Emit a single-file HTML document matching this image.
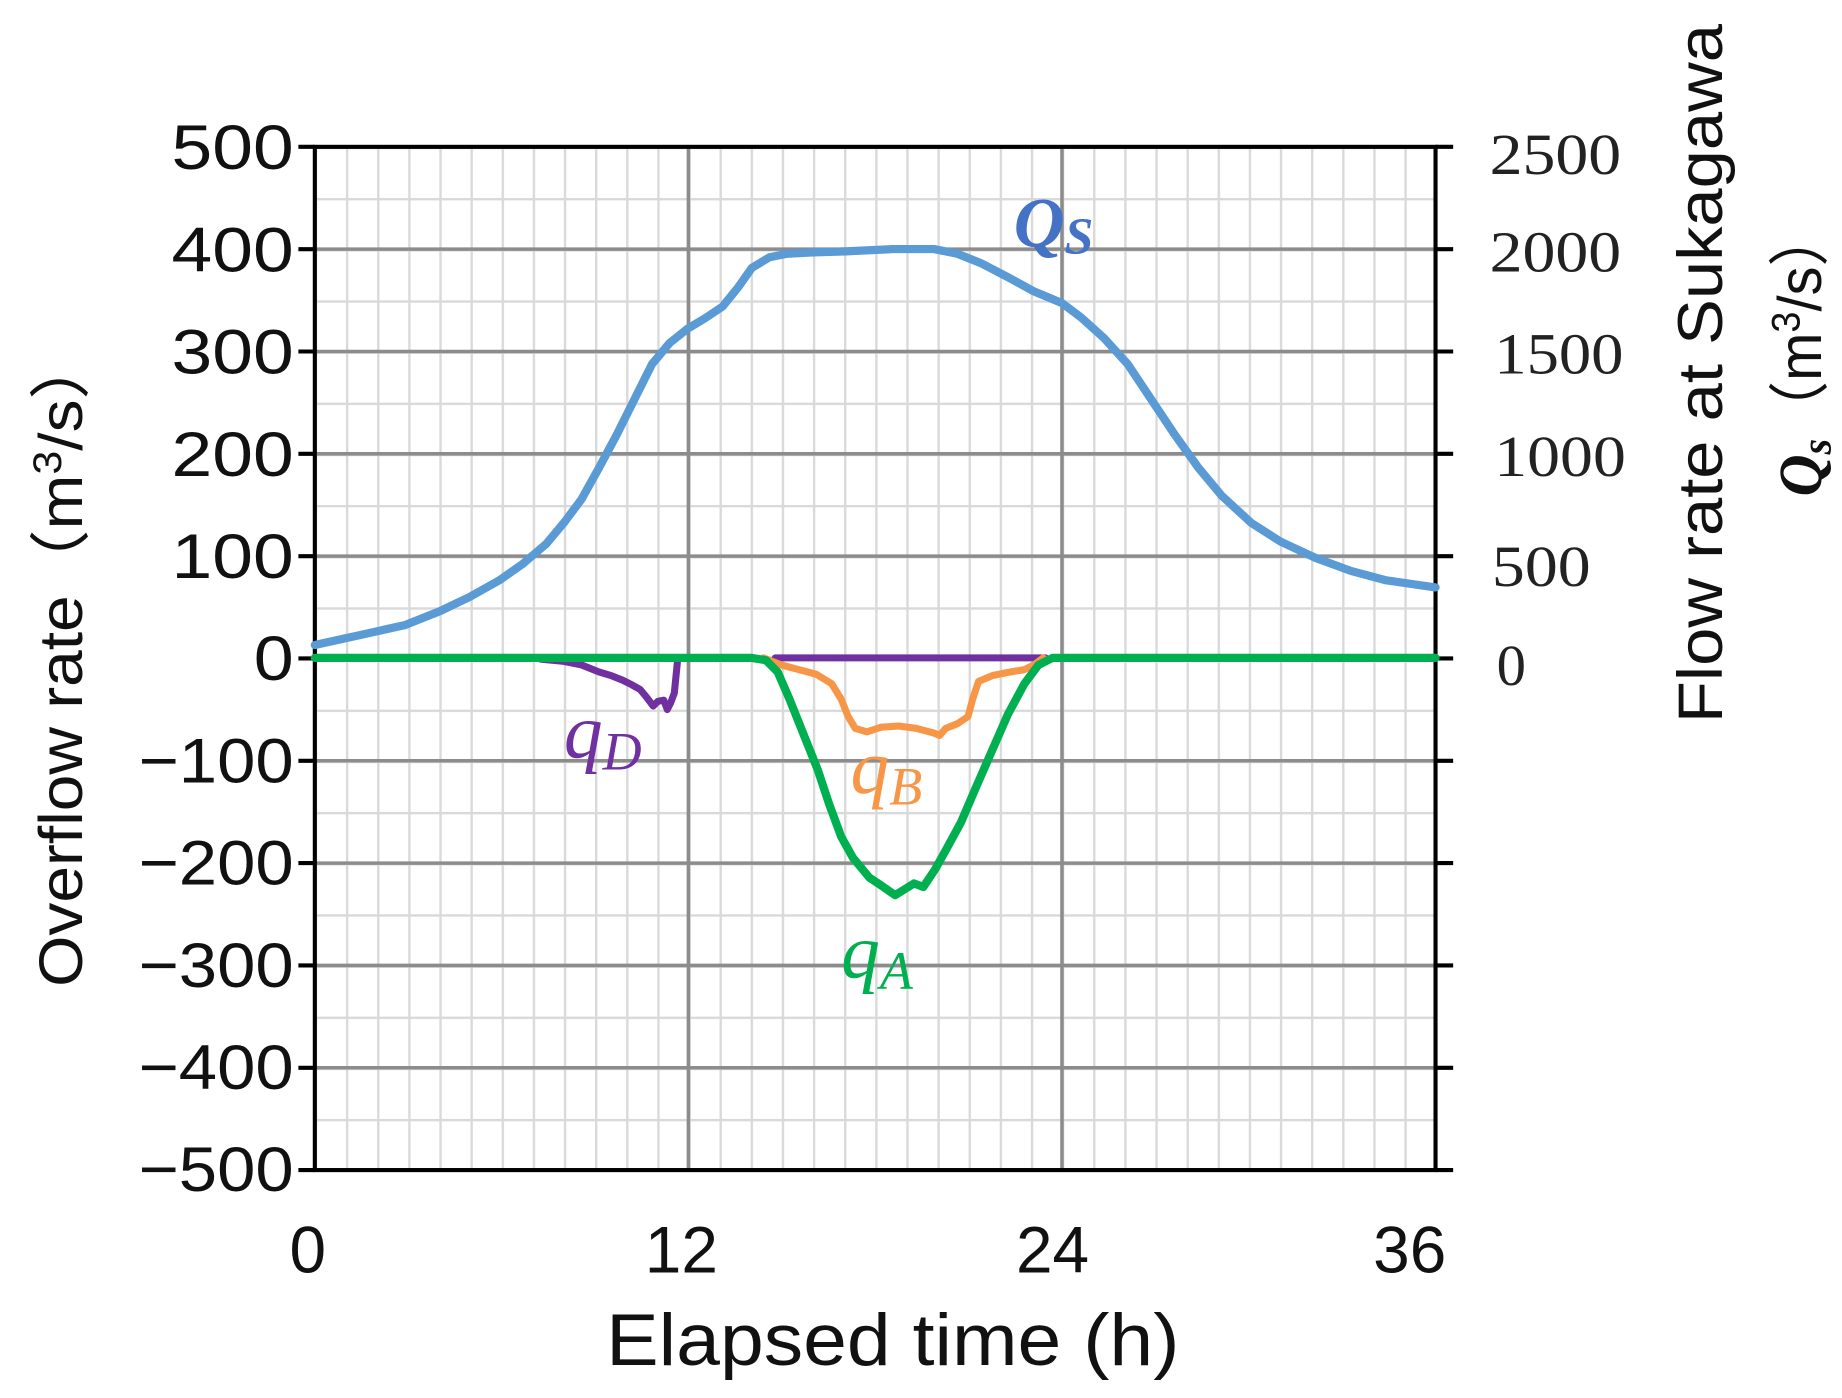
<!DOCTYPE html>
<html><head><meta charset="utf-8"><style>
html,body{margin:0;padding:0;background:#fff;}
svg{display:block;}
</style></head><body>
<svg width="1842" height="1398" viewBox="0 0 1568 1190" preserveAspectRatio="none" xmlns="http://www.w3.org/2000/svg">
<defs>
<pattern id="g" x="268" y="125" width="26.5" height="43.55" patternUnits="userSpaceOnUse">
<line x1="0" y1="0" x2="0" y2="43.55" stroke="#d9d9d9" stroke-width="4"/>
<line x1="0" y1="0" x2="26.5" y2="0" stroke="#d9d9d9" stroke-width="4"/>
</pattern>
</defs>
<rect x="0" y="0" width="1568" height="1190" fill="#fff"/>
<rect x="268" y="125" width="954" height="871" fill="url(#g)"/>
<g stroke="#8c8c8c" stroke-width="3">
<line x1="268" y1="212.1" x2="1222" y2="212.1"/>
<line x1="268" y1="299.2" x2="1222" y2="299.2"/>
<line x1="268" y1="386.3" x2="1222" y2="386.3"/>
<line x1="268" y1="473.4" x2="1222" y2="473.4"/>
<line x1="268" y1="560.5" x2="1222" y2="560.5"/>
<line x1="268" y1="647.6" x2="1222" y2="647.6"/>
<line x1="268" y1="734.7" x2="1222" y2="734.7"/>
<line x1="268" y1="821.8" x2="1222" y2="821.8"/>
<line x1="268" y1="908.9" x2="1222" y2="908.9"/>
<line x1="586" y1="125" x2="586" y2="996"/>
<line x1="904" y1="125" x2="904" y2="996"/>
</g>
<g stroke="#000" stroke-width="3.5">
<rect x="268" y="125" width="954" height="871" fill="none"/>
<line x1="254" y1="125" x2="268" y2="125"/><line x1="254" y1="212.1" x2="268" y2="212.1"/><line x1="254" y1="299.2" x2="268" y2="299.2"/><line x1="254" y1="386.3" x2="268" y2="386.3"/><line x1="254" y1="473.4" x2="268" y2="473.4"/><line x1="254" y1="560.5" x2="268" y2="560.5"/><line x1="254" y1="647.6" x2="268" y2="647.6"/><line x1="254" y1="734.7" x2="268" y2="734.7"/><line x1="254" y1="821.8" x2="268" y2="821.8"/><line x1="254" y1="908.9" x2="268" y2="908.9"/><line x1="254" y1="996" x2="268" y2="996"/>
<line x1="1222" y1="125" x2="1237" y2="125"/><line x1="1222" y1="212.1" x2="1237" y2="212.1"/><line x1="1222" y1="299.2" x2="1237" y2="299.2"/><line x1="1222" y1="386.3" x2="1237" y2="386.3"/><line x1="1222" y1="473.4" x2="1237" y2="473.4"/><line x1="1222" y1="560.5" x2="1237" y2="560.5"/><line x1="1222" y1="647.6" x2="1237" y2="647.6"/><line x1="1222" y1="734.7" x2="1237" y2="734.7"/><line x1="1222" y1="821.8" x2="1237" y2="821.8"/><line x1="1222" y1="908.9" x2="1237" y2="908.9"/><line x1="1222" y1="996" x2="1237" y2="996"/>
</g>
<g font-family="Liberation Sans, sans-serif" font-size="54" text-anchor="end" fill="#111">
<text x="250" y="144" textLength="104" lengthAdjust="spacingAndGlyphs">500</text><text x="250" y="231" textLength="104" lengthAdjust="spacingAndGlyphs">400</text><text x="250" y="318" textLength="104" lengthAdjust="spacingAndGlyphs">300</text><text x="250" y="405" textLength="104" lengthAdjust="spacingAndGlyphs">200</text><text x="250" y="492" textLength="104" lengthAdjust="spacingAndGlyphs">100</text><text x="250" y="579" textLength="34" lengthAdjust="spacingAndGlyphs">0</text><text x="250" y="666" textLength="132" lengthAdjust="spacingAndGlyphs">−100</text><text x="250" y="753" textLength="132" lengthAdjust="spacingAndGlyphs">−200</text><text x="250" y="840" textLength="132" lengthAdjust="spacingAndGlyphs">−300</text><text x="250" y="927" textLength="132" lengthAdjust="spacingAndGlyphs">−400</text><text x="250" y="1014" textLength="132" lengthAdjust="spacingAndGlyphs">−500</text>
</g>
<g font-family="Liberation Serif, serif" font-size="50" fill="#222">
<text x="1268" y="148" textLength="112" lengthAdjust="spacingAndGlyphs">2500</text><text x="1268" y="231" textLength="112" lengthAdjust="spacingAndGlyphs">2000</text><text x="1272" y="318" textLength="110" lengthAdjust="spacingAndGlyphs">1500</text><text x="1272" y="405" textLength="112" lengthAdjust="spacingAndGlyphs">1000</text><text x="1270" y="499" textLength="84" lengthAdjust="spacingAndGlyphs">500</text><text x="1274" y="583">0</text>
</g>
<g font-family="Liberation Sans, sans-serif" font-size="56" text-anchor="middle" fill="#111">
<text x="262" y="1083">0</text><text x="580" y="1083">12</text><text x="896" y="1083">24</text><text x="1200" y="1083">36</text>
</g>
<text x="760" y="1162" font-family="Liberation Sans, sans-serif" font-size="62" text-anchor="middle" fill="#111" textLength="488" lengthAdjust="spacingAndGlyphs">Elapsed time (h)</text>
<text transform="translate(70,562) rotate(-90)" font-family="Liberation Sans, sans-serif" font-size="52" text-anchor="middle" fill="#111" textLength="556" lengthAdjust="spacingAndGlyphs">Overflow rate（m<tspan font-size="34" dy="-18">3</tspan><tspan dy="18">/s）</tspan></text>
<text transform="translate(1466,318) rotate(-90)" font-family="Liberation Sans, sans-serif" font-size="54" text-anchor="middle" fill="#111" textLength="595" lengthAdjust="spacingAndGlyphs">Flow rate at Sukagawa</text>
<text transform="translate(1550,300) rotate(-90)" font-family="Liberation Sans, sans-serif" font-size="52" text-anchor="middle" fill="#111" textLength="245" lengthAdjust="spacingAndGlyphs"><tspan font-family="Liberation Serif, serif" font-weight="bold" font-style="italic">Q</tspan><tspan font-family="Liberation Serif, serif" font-style="italic" font-weight="bold" font-size="36" dy="8">s</tspan><tspan dy="-8">（m</tspan><tspan font-size="34" dy="-18">3</tspan><tspan dy="18">/s）</tspan></text>
<g fill="none" stroke-linejoin="round" stroke-linecap="round">
<polyline stroke="#5b9bd5" stroke-width="7" points="268,549 300,542 345,532 375,520 400,508 425,494 445,480 465,463 480,445 495,425 510,398 525,370 540,340 555,310 570,292 585,280 600,271 615,261 628,245 640,228 655,219 670,216 690,215 720,214 760,212 795,212 815,216 835,224 860,237 880,248 904,258 920,270 940,288 960,310 980,340 1000,370 1020,398 1040,422 1065,445 1090,461 1120,475 1150,486 1180,494 1222,500"/>
<polyline stroke="#7030a0" stroke-width="6" points="460,561 480,563 495,566 510,572 520,575 530,579 538,583 545,587 550,593 556,601 560,597 565,596 568,604 571,598 574,590 577,560"/>
<line x1="660" y1="560" x2="890" y2="560" stroke="#7030a0" stroke-width="6"/>
<polyline stroke="#f79646" stroke-width="6" points="650,560 665,566 680,570 695,574 708,582 716,595 722,610 728,620 738,623 750,619 765,618 780,620 795,624 800,626 805,620 815,616 824,610 828,595 833,580 845,575 860,572 872,570 880,566 888,560"/>
<polyline stroke="#00b050" stroke-width="7" points="268,560 640,560 652,562 662,572 672,595 684,625 696,655 706,685 716,712 726,730 740,747 752,755 762,762 770,757 778,752 786,755 796,740 806,722 818,700 830,672 844,640 858,608 872,582 884,566 896,560 1222,560"/>
</g>
<text x="863" y="210" font-family="Liberation Serif, serif" font-size="60" font-weight="bold" font-style="italic" fill="#4472c4">Q<tspan font-size="44" dy="6">S</tspan></text>
<text x="480" y="645" font-family="Liberation Serif, serif" font-size="66" font-style="italic" fill="#7030a0">q<tspan font-size="46" dy="10">D</tspan></text>
<text x="724" y="675" font-family="Liberation Serif, serif" font-size="66" font-style="italic" fill="#f79646">q<tspan font-size="46" dy="10">B</tspan></text>
<text x="716" y="832" font-family="Liberation Serif, serif" font-size="66" font-style="italic" fill="#00b050">q<tspan font-size="46" dy="10">A</tspan></text>
</svg>
</body></html>
